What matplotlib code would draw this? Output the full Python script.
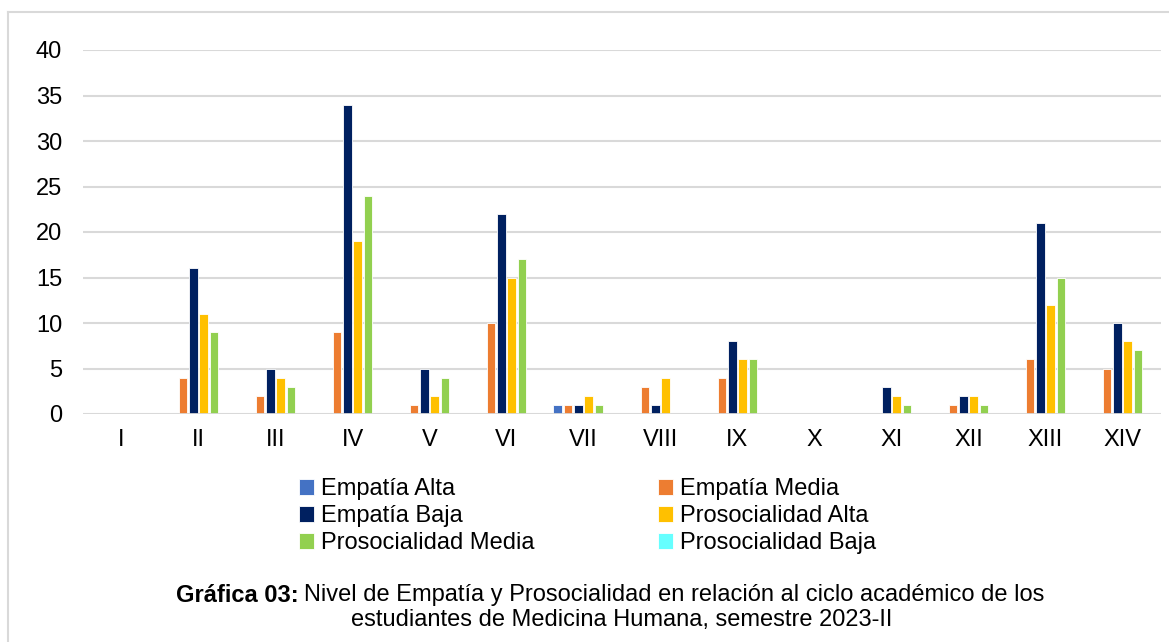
import numpy as np
import matplotlib.pyplot as plt
from matplotlib.lines import Line2D

plt.rcParams['font.family'] = ['Liberation Sans', 'DejaVu Sans']

ciclos = ["I", "II", "III", "IV", "V", "VI", "VII", "VIII", "IX", "X", "XI", "XII", "XIII", "XIV"]
empatia_alta = [0, 0, 0, 0, 0, 0, 1, 0, 0, 0, 0, 0, 0, 0]
empatia_media = [0, 4, 2, 9, 1, 10, 1, 3, 4, 0, 0, 1, 6, 5]
empatia_baja = [0, 16, 5, 34, 5, 22, 1, 1, 8, 0, 3, 2, 21, 10]
prosoc_alta = [0, 11, 4, 19, 2, 15, 2, 4, 6, 0, 2, 2, 12, 8]
prosoc_media = [0, 9, 3, 24, 4, 17, 1, 0, 6, 0, 1, 1, 15, 7]
prosoc_baja = [0, 0, 0, 0, 0, 0, 0, 0, 0, 0, 0, 0, 0, 0]

series = [
    ("Empatía Alta", empatia_alta, "#4472C4"),
    ("Empatía Media", empatia_media, "#ED7D31"),
    ("Empatía Baja", empatia_baja, "#002060"),
    ("Prosocialidad Alta", prosoc_alta, "#FFC000"),
    ("Prosocialidad Media", prosoc_media, "#92D050"),
    ("Prosocialidad Baja", prosoc_baja, "#66FFFF"),
]

W, H = 1169, 642
fig = plt.figure(figsize=(W / 100, H / 100), dpi=100)

# outer frame (left and top only visible)
fig.add_artist(Line2D([8 / W, 8 / W], [0, 1 - 12 / H], color="#D9D9D9", lw=1.5))
fig.add_artist(Line2D([8 / W, 1], [1 - 12 / H, 1 - 12 / H], color="#D9D9D9", lw=1.5))

ax = fig.add_axes([83 / W, 1 - 414 / H, (1161 - 83) / W, (414 - 50) / H])

x = np.arange(len(ciclos))
pitch = 0.134
width = 0.112
handles = []
for i, (name, vals, col) in enumerate(series):
    b = ax.bar(x + (i - 2.5) * pitch, vals, width, color=col, edgecolor="white",
               linewidth=0.6, label=name, zorder=3)
    handles.append(b)

ax.set_xlim(-0.5, len(ciclos) - 0.5)
ax.set_ylim(0, 40)
ax.set_yticks(range(0, 41, 5))
ax.set_xticks(x)
ax.set_xticklabels(ciclos)
ax.grid(axis="y", color="#D9D9D9", linewidth=1.5, zorder=0)
ax.axhline(0, color="#D9D9D9", linewidth=2, zorder=4)
for s in ax.spines.values():
    s.set_visible(False)
ax.tick_params(axis="both", length=0, labelsize=17, colors="black")
ax.tick_params(axis="y", pad=15)
ax.tick_params(axis="x", pad=11)

order = [0, 2, 4, 1, 3, 5]
fig.legend([handles[k] for k in order], [series[k][0] for k in order],
           ncol=2, loc="upper left", bbox_to_anchor=(299 / W, 1 - 478 / H),
           frameon=False, fontsize=17, handlelength=0.65, handleheight=0.65,
           handletextpad=0.3, columnspacing=5.2, labelspacing=0.22,
           borderpad=0, borderaxespad=0)

# caption: bold part + regular part
fig.canvas.draw()
r = fig.canvas.get_renderer()
t1 = fig.text(176 / W, 1 - 595 / H, "Gráfica 03:", fontsize=17, fontweight="bold",
              ha="left", va="center")
ext = t1.get_window_extent(renderer=r)
fig.text((ext.x1 + 5) / W, 1 - 595 / H,
         "Nivel de Empatía y Prosocialidad en relación al ciclo académico de los",
         fontsize=17, ha="left", va="center")
fig.text(622 / W, 1 - 620 / H, "estudiantes de Medicina Humana, semestre 2023-II",
         fontsize=17, ha="center", va="center")

fig.savefig("out.png", dpi=100)
